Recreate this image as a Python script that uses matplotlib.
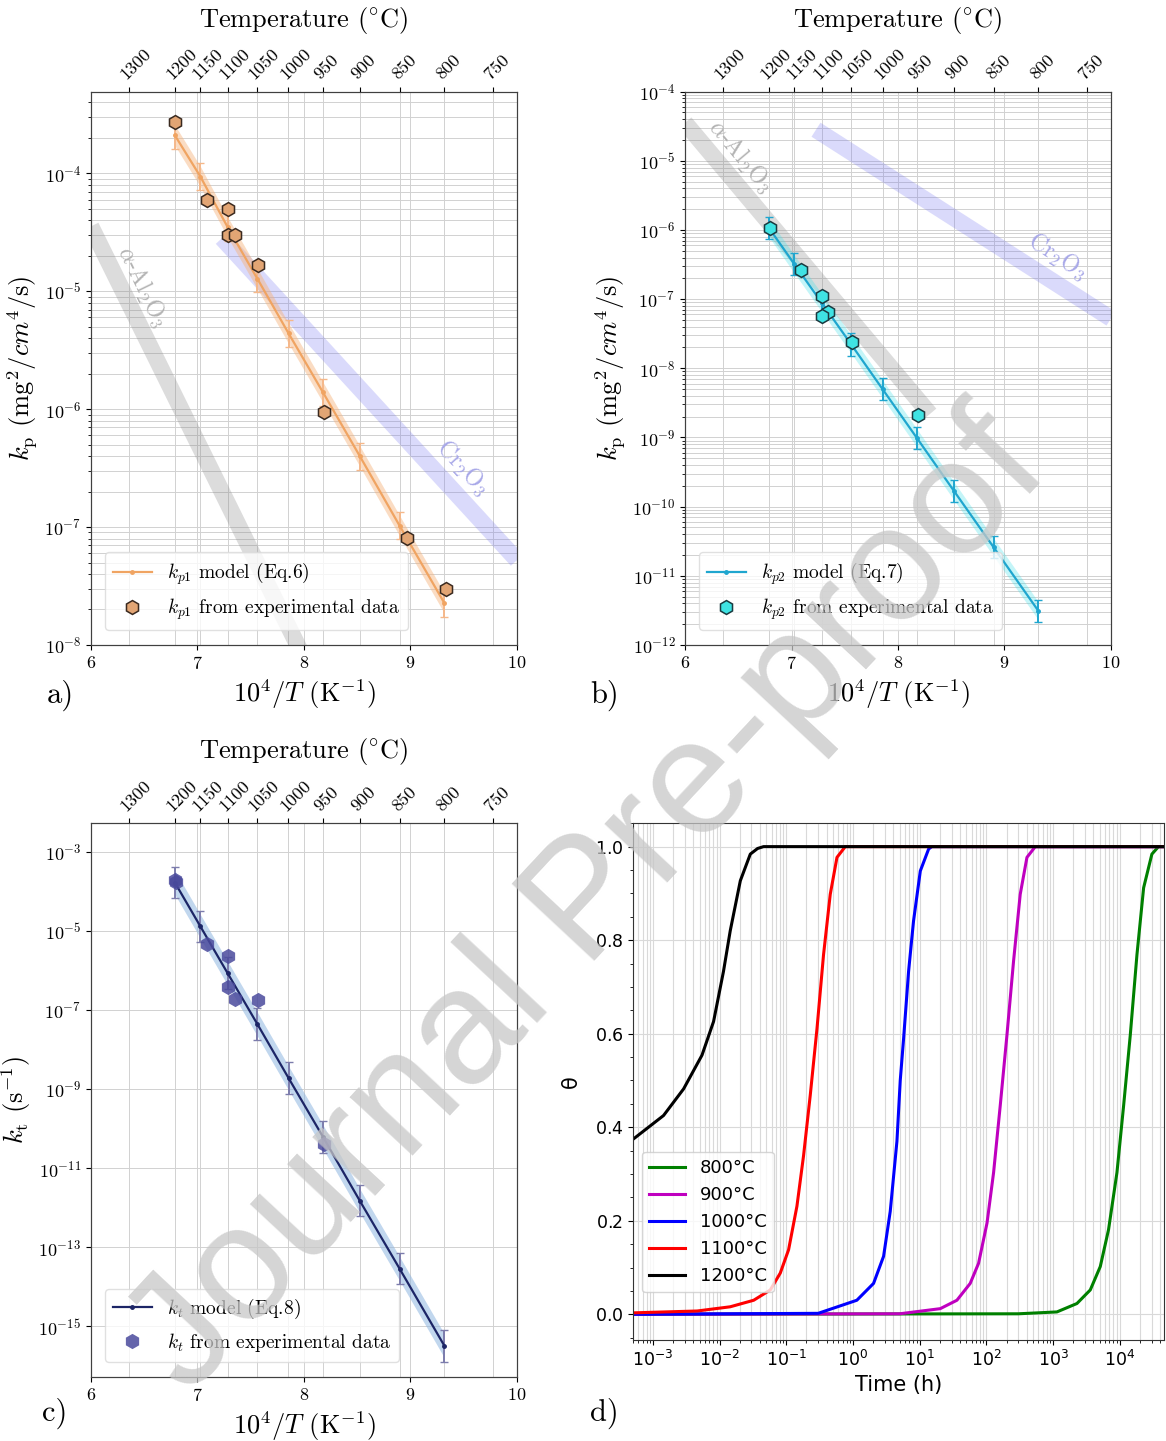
import numpy as np
import matplotlib
matplotlib.use("Agg")
import matplotlib.pyplot as plt
from matplotlib.ticker import FixedLocator, NullLocator, LogLocator, NullFormatter, MultipleLocator

plt.rcParams['font.family'] = ['cmr10', 'DejaVu Serif']
plt.rcParams['mathtext.fontset'] = 'cm'
plt.rcParams['axes.unicode_minus'] = False
plt.rcParams['axes.formatter.use_mathtext'] = True

# top axis temperatures (degC)
temps_c = [1300, 1200, 1150, 1100, 1050, 1000, 950, 900, 850, 800, 750]

# model points (10^4/T) at 1200..800 degC
x_model = [6.788, 7.027, 7.283, 7.562, 7.855, 8.178, 8.524, 8.897, 9.319]
kp1_model = [2.1e-4, 9.4e-5, 3.5e-5, 1.28e-5, 4.4e-6, 1.39e-6, 4.0e-7, 1.03e-7, 2.26e-8]
kp2_model = [1.07e-6, 3.2e-7, 8.9e-8, 2.2e-8, 5.0e-9, 9.8e-10, 1.7e-10, 2.6e-11, 3.1e-12]
kt_model = [1.66e-4, 1.3e-5, 8.5e-7, 4.4e-8, 1.9e-9, 6.2e-11, 1.5e-12, 2.9e-14, 3.2e-16]

# experimental points
x_exp1 = [6.79, 7.09, 7.29, 7.29, 7.35, 7.57, 8.19, 8.97, 9.33]
kp1_exp = [2.75e-4, 6.0e-5, 4.95e-5, 3.0e-5, 3.0e-5, 1.66e-5, 9.4e-7, 8.1e-8, 3.0e-8]
x_exp2 = [6.80, 7.09, 7.29, 7.34, 7.29, 7.57, 8.19]
kp2_exp = [1.07e-6, 2.6e-7, 1.1e-7, 6.6e-8, 5.7e-8, 2.4e-8, 2.1e-9]
x_exp3 = [6.79, 6.80, 7.09, 7.29, 7.29, 7.35, 7.57, 8.19]
kt_exp = [1.9e-4, 1.7e-4, 4.7e-6, 2.3e-6, 3.8e-7, 1.9e-7, 1.8e-7, 4.1e-11]

# relative error factors (error bar, shaded band)
err1, band1 = 1.3, 1.22
err2, band2 = 1.45, 1.35
err3, band3 = 2.5, 2.0

# reference oxide bands (10^4/T, log10 kp)
alumina_x = [6.0, 8.3]
alumina_logk = [-4.45, -8.66]
chromia_x = [7.23, 10.0]
chromia_logk = [-4.55, -7.28]

# panel d: theta vs time (h)
curves = [
    ("800°C", 'g',
     [5e-4, 300, 1140, 2275, 3606, 5093, 6776, 9057, 11400, 14350, 18070, 22750, 30270, 38020, 4.6e4],
     [0, 0.001, 0.005, 0.023, 0.052, 0.102, 0.181, 0.303, 0.446, 0.597, 0.769, 0.912, 0.984, 1.0, 1.0]),
    ("900°C", 'm',
     [5e-4, 5, 20.3, 36.1, 57.1, 76.2, 102, 128, 161, 203, 255, 321, 405, 540, 4.6e4],
     [0, 0.001, 0.012, 0.030, 0.066, 0.109, 0.195, 0.303, 0.446, 0.597, 0.755, 0.898, 0.977, 1.0, 1.0]),
    ("1000°C", 'b',
     [5e-4, 0.3, 1.14, 2.03, 2.87, 3.61, 4.55, 5.1, 5.73, 6.8, 8.07, 10.2, 13.6, 15.2, 4.6e4],
     [0, 0.002, 0.030, 0.066, 0.124, 0.22, 0.37, 0.50, 0.59, 0.733, 0.841, 0.948, 0.995, 1.0, 1.0]),
    ("1100°C", 'r',
     [5e-4, 4.6e-3, 0.0144, 0.0324, 0.0574, 0.081, 0.108, 0.144, 0.181, 0.228, 0.288, 0.361, 0.455, 0.574, 0.764, 4.6e4],
     [0.003, 0.007, 0.016, 0.030, 0.052, 0.088, 0.138, 0.231, 0.339, 0.468, 0.611, 0.769, 0.898, 0.977, 1.0, 1.0]),
    ("1200°C", 'k',
     [5e-4, 1.44e-3, 2.88e-3, 5.43e-3, 8.1e-3, 1.14e-2, 1.44e-2, 2.04e-2, 2.88e-2, 3.7e-2, 4.55e-2, 4.6e4],
     [0.374, 0.425, 0.482, 0.554, 0.626, 0.733, 0.820, 0.927, 0.984, 0.996, 1.0, 1.0]),
]

fig = plt.figure(figsize=(11.66, 14.41), dpi=100)
ax_a = fig.add_axes([0.078, 0.5524, 0.3654, 0.3840])
ax_b = fig.add_axes([0.5875, 0.5524, 0.3653, 0.3840])
ax_c = fig.add_axes([0.078, 0.0444, 0.3654, 0.3843])

grid_kw = dict(color='0.82', lw=0.7)


def arrhenius_axes(ax, ylim, ylabel, minor_y=True):
    ax.set_yscale('log')
    ax.set_xlim(6, 10)
    ax.set_ylim(*ylim)
    ax.set_xticks([6, 7, 8, 9, 10])
    tpos = [1e4 / (t + 273.15) for t in temps_c]
    ax.xaxis.set_minor_locator(FixedLocator(tpos))
    ax.tick_params(axis='x', which='minor', length=0)
    ax.tick_params(axis='both', which='major', labelsize=13, direction='out')
    if not minor_y:
        ax.yaxis.set_minor_locator(NullLocator())
    ax.grid(True, which='both', **grid_kw)
    ax.set_axisbelow(True)
    ax.set_xlabel(r"$10^4/T$ (K$^{-1}$)", fontsize=19, labelpad=4)
    ax.set_ylabel(ylabel, fontsize=19, labelpad=4)
    top = ax.twiny()
    top.set_xlim(6, 10)
    top.set_xticks(tpos)
    top.set_xticklabels([str(t) for t in temps_c], rotation=45, ha='left',
                        va='bottom', rotation_mode='anchor', fontsize=13)
    top.tick_params(axis='x', pad=3)
    top.set_xlabel(r"Temperature $(^{\circ}\mathrm{C})$", fontsize=19, labelpad=14)
    for sp in list(ax.spines.values()) + list(top.spines.values()):
        sp.set_color('0.25')
    return top


def model_panel(ax, xm, km, err, band, line_c, err_c, band_c, band_a, lab):
    km = np.array(km)
    ax.fill_between(xm, km / band, km * band, color=band_c, alpha=band_a, lw=0, zorder=2)
    ax.errorbar(xm, km, yerr=[km - km / err, km * err - km], fmt='none',
                ecolor=err_c, elinewidth=1.4, capsize=3, zorder=3)
    line, = ax.plot(xm, km, '.-', color=line_c, ms=5, lw=1.6, zorder=3, label=lab)
    return line


def legend2(ax, h1, h2):
    ax.legend([h1, h2], [h1.get_label(), h2.get_label()], loc='lower left', fontsize=14,
              framealpha=0.8, edgecolor='0.85', bbox_to_anchor=(0.01, 0.01))


# ---- panel a
arrhenius_axes(ax_a, (1e-8, 4.93e-4), r"$k_\mathrm{p}$ (mg$^2$/$cm^4$/s)")
ax_a.plot(alumina_x, 10 ** np.array(alumina_logk), color='0.55', alpha=0.3, lw=12, solid_capstyle='butt', zorder=1)
ax_a.plot(chromia_x, 10 ** np.array(chromia_logk), color='#6f6ff0', alpha=0.25, lw=12, solid_capstyle='butt', zorder=1)
ax_a.text(6.48, 1.1e-5, r"$\alpha$-Al$_2$O$_3$", rotation=-64, color='0.7', fontsize=17, ha='center', va='center')
ax_a.text(9.49, 3.2e-7, r"Cr$_2$O$_3$", rotation=-47, color='#a8a8e8', fontsize=17, ha='center', va='center')
h1 = model_panel(ax_a, x_model, kp1_model, err1, band1, '#f0a462', '#f5b88a', '#f6b27a', 0.45,
                 r"$k_{p1}$ model (Eq.6)")
h2, = ax_a.plot(x_exp1, kp1_exp, 'h', ms=10, mfc='#e2a574', mec='#3a2a20', mew=1.1, ls='none', zorder=4,
                label=r"$k_{p1}$ from experimental data")
legend2(ax_a, h1, h2)

# ---- panel b
arrhenius_axes(ax_b, (1e-12, 1e-4), r"$k_\mathrm{p}$ (mg$^2$/$cm^4$/s)")
ax_b.yaxis.set_major_locator(LogLocator(base=10, numticks=20))
ax_b.yaxis.set_minor_locator(LogLocator(base=10, subs=np.arange(2, 10), numticks=100))
ax_b.yaxis.set_minor_formatter(NullFormatter())
ax_b.plot(alumina_x, 10 ** np.array(alumina_logk), color='0.55', alpha=0.3, lw=12, solid_capstyle='butt', zorder=1)
ax_b.plot(chromia_x, 10 ** np.array(chromia_logk), color='#6f6ff0', alpha=0.25, lw=12, solid_capstyle='butt', zorder=1)
ax_b.text(6.52, 1.15e-5, r"$\alpha$-Al$_2$O$_3$", rotation=-50, color='0.7', fontsize=17, ha='center', va='center')
ax_b.text(9.5, 4.2e-7, r"Cr$_2$O$_3$", rotation=-33, color='#a8a8e8', fontsize=17, ha='center', va='center')
h1 = model_panel(ax_b, x_model, kp2_model, err2, band2, '#1fa6cf', '#1fa6cf', '#3de0e8', 0.3,
                 r"$k_{p2}$ model (Eq.7)")
h2, = ax_b.plot(x_exp2, kp2_exp, 'h', ms=10, mfc='#3fe3e3', mec='#1a3a40', mew=1.1, ls='none', zorder=4,
                label=r"$k_{p2}$ from experimental data")
legend2(ax_b, h1, h2)

# ---- panel c
arrhenius_axes(ax_c, (10 ** -16.28, 10 ** -2.28), r"$k_\mathrm{t}$ (s$^{-1}$)", minor_y=False)
ax_c.yaxis.set_major_locator(FixedLocator([1e-3, 1e-5, 1e-7, 1e-9, 1e-11, 1e-13, 1e-15]))
h1 = model_panel(ax_c, x_model, kt_model, err3, band3, '#1c2566', '#7c7cac', '#8fb6e0', 0.55,
                 r"$k_t$ model (Eq.8)")
h2, = ax_c.plot(x_exp3, kt_exp, 'h', ms=11, mfc='#4a4a9c', mec='none', alpha=0.85, ls='none', zorder=4,
                label=r"$k_t$ from experimental data")
legend2(ax_c, h1, h2)

# ---- panel d
with plt.rc_context({'font.family': ['DejaVu Sans'], 'mathtext.fontset': 'dejavusans'}):
    ax_d = fig.add_axes([0.5428, 0.0701, 0.4555, 0.3586])
    for lab, col, t, th in curves:
        ax_d.plot(t, th, color=col, lw=2.2, label=lab)
    ax_d.set_xscale('log')
    ax_d.set_xlim(5e-4, 4.6e4)
    ax_d.set_ylim(-0.055, 1.05)
    ax_d.set_xticks([1e-3, 1e-2, 1e-1, 1e0, 1e1, 1e2, 1e3, 1e4])
    ax_d.xaxis.set_minor_locator(LogLocator(base=10, subs=np.arange(2, 10), numticks=100))
    ax_d.xaxis.set_minor_formatter(NullFormatter())
    ax_d.set_yticks([0.0, 0.2, 0.4, 0.6, 0.8, 1.0])
    ax_d.yaxis.set_minor_locator(MultipleLocator(0.05))
    ax_d.grid(True, which='both', axis='x', color='0.85', lw=0.8)
    ax_d.grid(True, which='major', axis='y', color='0.85', lw=0.8)
    ax_d.tick_params(labelsize=12.5)
    ax_d.set_xlabel("Time (h)", fontsize=15, family='DejaVu Sans')
    ax_d.set_ylabel("θ", fontsize=15, family='DejaVu Sans', labelpad=10)
    ax_d.legend(loc='lower left', bbox_to_anchor=(0.0, 0.075),
                prop={'family': 'DejaVu Sans', 'size': 13}, handlelength=2.0)
    for lbl in ax_d.get_xticklabels() + ax_d.get_yticklabels():
        lbl.set_fontfamily('DejaVu Sans')
        lbl.set_math_fontfamily('dejavusans')
    for sp in ax_d.spines.values():
        sp.set_color('0.2')

# panel letters
for x, y, s in [(0.040, 0.512, "a)"), (0.506, 0.512, "b)"), (0.036, 0.014, "c)"), (0.506, 0.014, "d)")]:
    fig.text(x, y, s, fontsize=22, family=['cmr10', 'DejaVu Serif'])

# watermark
fig.text(0.505, 0.372, "Journal Pre-proof", fontsize=118, family='Liberation Sans', color='0.78',
         alpha=0.75, rotation=47, ha='center', va='center', zorder=100)

fig.savefig("out.png", dpi=100)
